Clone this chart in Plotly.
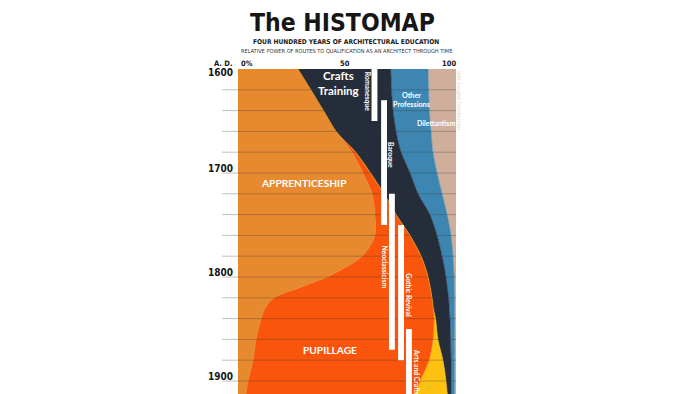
import numpy as np
import plotly.graph_objects as go

# ---------------- data ----------------
years = [1590, 1600, 1620, 1640, 1660, 1670, 1680, 1700, 1720, 1740, 1760, 1770,
         1780, 1790, 1800, 1810, 1820, 1830, 1840, 1860, 1880, 1900, 1920]
apprenticeship = [24.6, 27.5, 33.4, 39.2, 45.0, 48.6, 52.3, 57.3, 61.5, 62.8, 62.8, 60.6,
                  56.9, 50.0, 40.8, 28.5, 16.5, 12.4, 10.6, 8.3, 6.9, 4.6, 3.2]
pupillage = [0, 0, 0, 0, 0, 0.8, 1.7, 3.5, 5.5, 9.7, 16.1, 21.0,
             27.1, 35.8, 46.4, 59.7, 72.5, 77.2, 79.3, 81.1, 80.7, 78.9, 76.6]
arts_and_crafts = [0, 0, 0, 0, 0, 0, 0, 0, 0, 0, 0, 0,
                   0, 0, 0, 0, 0, 0, 0.7, 2.3, 6.4, 11.9, 16.5]
crafts_training = [44.9, 42.5, 37.0, 31.9, 27.5, 24.1, 20.8, 18.1, 15.6, 15.5, 12.4, 10.9,
                   9.6, 8.8, 8.2, 7.8, 7.6, 7.3, 6.6, 5.8, 3.7, 2.3, 1.4]
other_professions = [17.6, 17.2, 17.0, 16.7, 16.0, 15.4, 14.6, 12.4, 11.0, 7.9, 6.4, 5.7,
                     5.0, 4.3, 3.7, 3.2, 2.7, 2.4, 2.1, 1.9, 1.7, 1.7, 1.7]
dilettantism = [12.9, 12.8, 12.6, 12.2, 11.5, 11.1, 10.6, 8.7, 6.4, 4.1, 2.3, 1.8,
                1.4, 1.1, 0.9, 0.8, 0.7, 0.7, 0.7, 0.6, 0.6, 0.6, 0.6]

stream_names = ["Apprenticeship", "Pupillage", "Arts and Crafts", "Crafts Training",
                "Other Professions", "Dilettantism"]
stream_values = [apprenticeship, pupillage, arts_and_crafts, crafts_training,
                 other_professions, dilettantism]
stream_colors = ["#E6892F", "#F9550C", "#FDC112", "#262D3A", "#3D86B2", "#CFAF9B"]

style_names = ["Romanesque", "Baroque", "Neoclassicism", "Gothic Revival", "Arts and Crafts"]
style_start = [1600, 1630, 1720, 1750, 1850]
style_end = [1650, 1750, 1870, 1880, 1930]

year_ticks = [1600, 1700, 1800, 1900]
grid_years = list(range(1620, 1920, 20))

# ---------------- layout helpers ----------------
L, R, T, B = 238, 244, 69, 0
W, H = 700, 394
PW, PH = W - L - R, H - T - B


def paper_x(px):
    return (px - L) / PW


def paper_y(py):
    return (H - B - py) / PH


fig = go.Figure()

cum = np.zeros(len(years))
for i, (name, vals, col) in enumerate(zip(stream_names, stream_values, stream_colors)):
    cum = cum + np.array(vals, dtype=float)
    fig.add_trace(go.Scatter(
        x=cum.copy(), y=years, mode="lines", name=name,
        line=dict(color=col, width=0.6, shape="spline", smoothing=0.9),
        fill="tozerox" if i == 0 else "tonextx", fillcolor=col,
        hoverinfo="skip", showlegend=False))

shapes = []
# grid lines (over the streams)
for gy in grid_years:
    shapes.append(dict(type="line", xref="paper", yref="y", x0=paper_x(222), x1=1.0,
                       y0=gy, y1=gy, line=dict(color="rgba(60,60,60,0.32)", width=1),
                       layer="above"))
# style period bars
bar_slots = [62.6, 67.0, 70.6, 74.8, 78.4]
bar_w = 2.7
for s, e, xc in zip(style_start, style_end, bar_slots):
    shapes.append(dict(type="rect", xref="x", yref="y", x0=xc - bar_w / 2, x1=xc + bar_w / 2,
                       y0=s, y1=e, fillcolor="white", line=dict(width=0), layer="above"))

narrow = "DejaVu Sans Condensed, Liberation Sans Narrow, Arial Narrow, sans-serif"
geo = "Lato, Noto Sans, sans-serif"

ann = []


def text_at(text, xref, x, yref, y, size, fam=narrow, color="#161616", xanchor="center",
            angle=0):
    ann.append(dict(text=text, xref=xref, yref=yref, x=x, y=y, xanchor=xanchor,
                    yanchor="middle", showarrow=False, textangle=angle,
                    font=dict(family=fam, size=size, color=color)))


# title block
text_at("<b>The HISTOMAP</b>", "paper", paper_x(342), "paper", paper_y(22.5), 24.5)
text_at("<b>FOUR HUNDRED YEARS OF ARCHITECTURAL EDUCATION</b>", "paper", paper_x(346),
        "paper", paper_y(42), 6.6)
text_at("RELATIVE POWER OF ROUTES TO QUALIFICATION AS AN ARCHITECT THROUGH TIME", "paper",
        paper_x(346), "paper", paper_y(50.5), 5.6, color="#333333")
# top axis labels
text_at("<b>A. D.</b>", "paper", paper_x(233.5), "paper", paper_y(63.5), 7.5, xanchor="right")
text_at("<b>0%</b>", "paper", paper_x(239), "paper", paper_y(63.5), 7.5, xanchor="left")
text_at("<b>50</b>", "paper", paper_x(345), "paper", paper_y(63.5), 7.5)
text_at("<b>100</b>", "paper", paper_x(458), "paper", paper_y(63.5), 7.5, xanchor="right")
# year labels
for yv in year_ticks:
    yy = yv + 3.6 if yv == 1600 else yv - 4.3
    text_at("<b>%d</b>" % yv, "paper", paper_x(235), "y", yy, 10, xanchor="right")


# stream labels
def lab(text, x, y, size, angle=0, color="white"):
    text_at(text, "x", x, "y", y, size, fam=geo, color=color, angle=angle)


lab("<b>Crafts</b><br><b>Training</b>", 46.0, 1613.5, 11.5)
lab("<b>APPRENTICESHIP</b>", 30.3, 1709.3, 10.2)
lab("<b>PUPILLAGE</b>", 42.0, 1870.4, 10.2)
lab("<b>Other</b><br><b>Professions</b>", 79.4, 1629.8, 7.2)
lab("<b>Dilettantism</b>", 90.6, 1651.6, 7.0)
lab("<b>Romanesque</b>", 59.4, 1621.5, 6.8, 90)
lab("<b>Baroque</b>", 70.1, 1682.5, 6.8, 90)
lab("<b>Neoclassicism</b>", 67.2, 1790.5, 6.8, 90)
lab("<b>Gothic Revival</b>", 78.4, 1817.5, 6.8, 90)
lab("<b>Arts and Crafts</b>", 82.1, 1891.0, 6.8, 90)
text_at("Self-taught Gentlemen", "paper", paper_x(459.5), "y", 1630.0, 6, fam=geo,
        color="#E6D6CA", angle=90)

fig.update_layout(
    width=W, height=H, margin=dict(l=L, r=R, t=T, b=B, pad=0),
    paper_bgcolor="white", plot_bgcolor="white",
    xaxis=dict(range=[0, 100], visible=False, fixedrange=True),
    yaxis=dict(range=[1912.5, 1600], visible=False, fixedrange=True),
    shapes=shapes, annotations=ann, showlegend=False,
)

fig.write_html("out.html", config={"displayModeBar": False, "staticPlot": True},
               post_script="document.body.style.margin='0px';document.body.style.overflow='hidden';")
